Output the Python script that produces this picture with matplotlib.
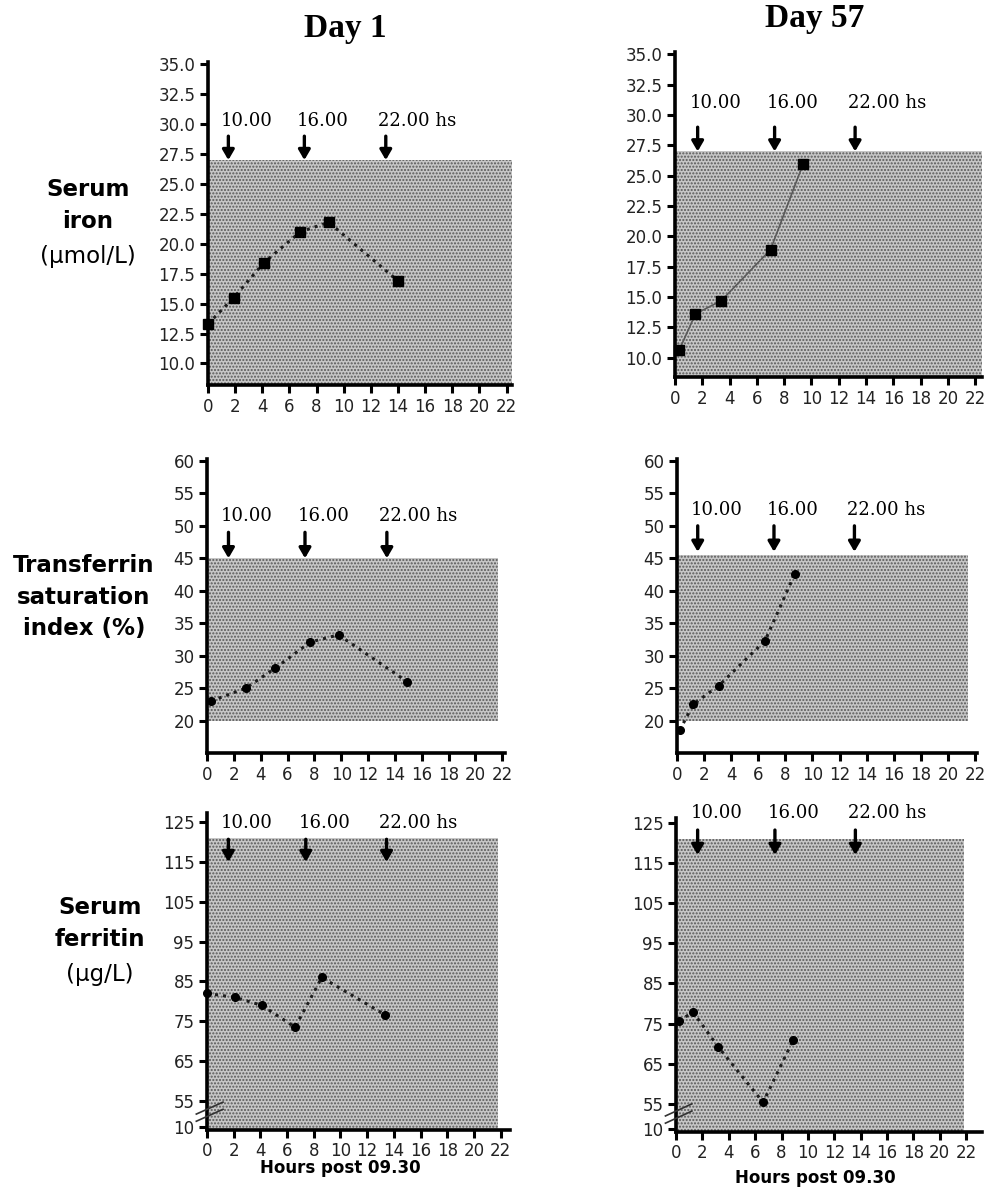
import matplotlib
matplotlib.use("Agg")
import matplotlib.pyplot as plt

# ---- data ----
hours_iron_d1 = [0.0, 1.9, 4.1, 6.8, 8.9, 14.0]
iron_d1 = [13.3, 15.5, 18.4, 21.0, 21.8, 16.9]
hours_iron_d57 = [0.3, 1.5, 3.4, 7.0, 9.4]
iron_d57 = [10.6, 13.6, 14.7, 18.9, 26.0]

hours_tsat_d1 = [0.3, 2.9, 5.1, 7.7, 9.8, 14.9]
tsat_d1 = [23.0, 25.0, 28.1, 32.1, 33.2, 26.0]
hours_tsat_d57 = [0.2, 1.2, 3.1, 6.5, 8.7]
tsat_d57 = [18.5, 22.5, 25.4, 32.3, 42.6]

hours_ferr_d1 = [0.0, 2.1, 4.1, 6.6, 8.6, 13.3]
ferr_d1 = [82.0, 81.0, 79.0, 73.5, 86.0, 76.7]
hours_ferr_d57 = [0.2, 1.3, 3.2, 6.6, 8.9]
ferr_d57 = [75.7, 77.8, 69.2, 55.4, 71.0]

# reference ranges (shaded bands)
iron_range = (None, 27.0)
tsat_range = (20.0, 45.0)
ferr_range = (None, 121.0)

x_ticks = list(range(0, 23, 2))
iron_ticks = [10.0 + 2.5 * i for i in range(11)]
tsat_ticks = list(range(20, 61, 5))
ferr_ticks = list(range(55, 126, 10))

clock_labels = ["10.00", "16.00", "22.00 hs"]

W, H = 987, 1194
fig = plt.figure(figsize=(W / 100, H / 100), dpi=100)
plt.rcParams["hatch.linewidth"] = 1.0


def px_axes(left, right, top, bottom):
    return fig.add_axes([left / W, 1 - bottom / H, (right - left) / W, (bottom - top) / H])


def style(ax, xmax, ylim, yticks, ylabels):
    ax.set_xlim(0, xmax)
    ax.set_ylim(*ylim)
    for s in ("top", "right"):
        ax.spines[s].set_visible(False)
    for s in ("left", "bottom"):
        ax.spines[s].set_linewidth(2.6)
    ax.set_xticks(x_ticks)
    ax.set_yticks(yticks)
    ax.set_yticklabels(ylabels)
    ax.tick_params(direction="out", length=6, width=2.2, labelsize=12,
                   labelcolor="#222", pad=3)
    ax.patch.set_alpha(0)


def shade(ax, right, lo, hi):
    lo = ax.get_ylim()[0] if lo is None else lo
    ax.fill_between([0, right], lo, hi, facecolor="#c6c6c6", edgecolor="#585858",
                    hatch=".....", linewidth=0, zorder=0)


def arrows(ax, xs, y_text, y_start, y_tip):
    for x, lab in zip(xs, clock_labels):
        ax.text(x - 0.55, y_text, lab, family="DejaVu Serif", fontsize=13,
                ha="left", va="center", clip_on=False)
        ax.annotate("", xy=(x, y_tip), xytext=(x, y_start),
                    arrowprops=dict(arrowstyle="-|>,head_width=0.35,head_length=0.6",
                                    lw=2.4, color="black", shrinkA=0, shrinkB=0),
                    annotation_clip=False)


def series(ax, x, y, marker, ls=":", color="#1e1e1e", lw=2.2, ms=6):
    ax.plot(x, y, linestyle=ls, color=color, lw=lw, zorder=2)
    ax.plot(x, y, linestyle="none", marker=marker, ms=ms, color="black",
            zorder=3, clip_on=False)


def breakmark(ax):
    y0 = ax.get_ylim()[0]
    for dy in (2.2, 4.0):
        ax.plot([-0.8, 1.2], [y0 + dy, y0 + dy + 3.0], color="#333", lw=1.2,
                clip_on=False, zorder=4)


iron_lab = [f"{v:.1f}" for v in iron_ticks]
tsat_lab = [str(v) for v in tsat_ticks]

# Row 1 - serum iron
ax = px_axes(208, 512, 62, 385)
style(ax, 22.4, (8.2, 35.2), iron_ticks, iron_lab)
shade(ax, 22.4, *iron_range)
series(ax, hours_iron_d1, iron_d1, "s", ms=6.5)
arrows(ax, [1.5, 7.1, 13.1], 30.3, 29.0, 27.0)

ax = px_axes(675, 982, 52, 377)
style(ax, 22.5, (8.4, 35.2), iron_ticks, iron_lab)
shade(ax, 22.5, *iron_range)
series(ax, hours_iron_d57, iron_d57, "s", ls="-", color="#5a5a5a", lw=1.2, ms=6.5)
arrows(ax, [1.66, 7.3, 13.2], 31.0, 29.0, 27.0)

# Row 2 - transferrin saturation
ax = px_axes(207, 505, 459, 753)
style(ax, 22.2, (15, 60.3), tsat_ticks, tsat_lab)
shade(ax, 21.7, *tsat_range)
series(ax, hours_tsat_d1, tsat_d1, "o", ms=5.5)
arrows(ax, [1.6, 7.3, 13.4], 51.5, 49.0, 45.0)

ax = px_axes(677, 977, 459, 753)
style(ax, 22.15, (15, 60.3), tsat_ticks, tsat_lab)
shade(ax, 21.5, 20.0, 45.5)
series(ax, hours_tsat_d57, tsat_d57, "o", ms=5.5)
arrows(ax, [1.53, 7.16, 13.1], 52.4, 50.0, 46.0)

# Row 3 - serum ferritin (broken axis, bottom tick is 10)
ax = px_axes(207, 510, 813, 1130)
style(ax, 22.7, (47.7, 127.3), [48.5] + ferr_ticks, ["10"] + [str(v) for v in ferr_ticks])
shade(ax, 21.8, *ferr_range)
series(ax, hours_ferr_d1, ferr_d1, "o", ms=5.5)
arrows(ax, [1.6, 7.4, 13.45], 124.8, 120.7, 115.0)
breakmark(ax)

ax = px_axes(676, 982, 818, 1132)
style(ax, 23.2, (48.0, 126.2), [48.8] + ferr_ticks, ["10"] + [str(v) for v in ferr_ticks])
shade(ax, 21.8, *ferr_range)
series(ax, hours_ferr_d57, ferr_d57, "o", ms=5.5)
arrows(ax, [1.64, 7.5, 13.6], 127.4, 123.2, 117.0)
breakmark(ax)

# titles and row labels
fig.text(345 / W, 1 - 28 / H, "Day 1", family="Liberation Serif", weight="bold",
         fontsize=24, ha="center", va="center")
fig.text(815 / W, 1 - 18 / H, "Day 57", family="Liberation Serif", weight="bold",
         fontsize=24, ha="center", va="center")

row_labels = [
    (88, [("Serum", "bold", 190), ("iron", "bold", 222), ("(\u00b5mol/L)", "normal", 257)]),
    (84, [("Transferrin", "bold", 565), ("saturation", "bold", 597), ("index (%)", "bold", 628)]),
    (100, [("Serum", "bold", 908), ("ferritin", "bold", 940), ("(\u00b5g/L)", "normal", 975)]),
]
for cx, lines in row_labels:
    for txt, wt, y in lines:
        fig.text(cx / W, 1 - y / H, txt, family="DejaVu Sans", weight=wt,
                 fontsize=16.5, ha="center", va="center")

fig.text(340 / W, 1 - 1168 / H, "Hours post 09.30", family="DejaVu Sans",
         weight="bold", fontsize=12, ha="center", va="center")
fig.text(815 / W, 1 - 1178 / H, "Hours post 09.30", family="DejaVu Sans",
         weight="bold", fontsize=12, ha="center", va="center")

fig.savefig("out.png", dpi=100)
